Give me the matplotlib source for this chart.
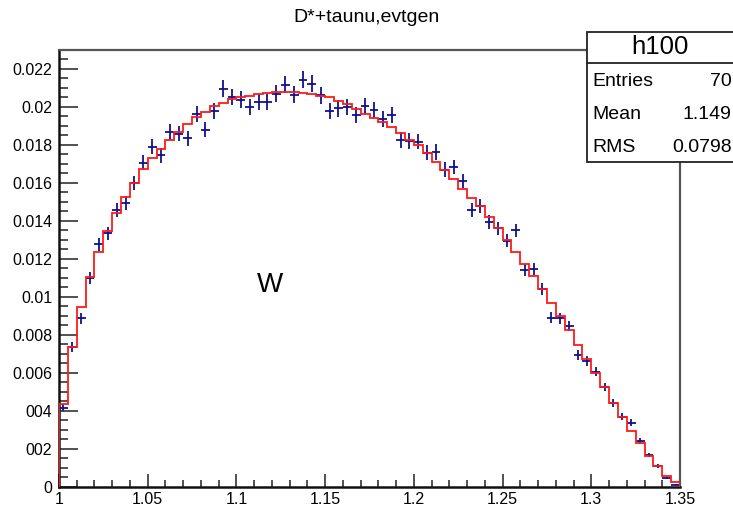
import numpy as np
import matplotlib
matplotlib.use('Agg')
import matplotlib.pyplot as plt
from matplotlib.patches import Rectangle
from matplotlib.lines import Line2D
from matplotlib.ticker import MultipleLocator, FixedLocator

plt.rcParams['font.family'] = ['Liberation Sans', 'DejaVu Sans']

# binning: 70 bins between 1 and 1.35
x_lo, x_hi, n_bins = 1.0, 1.35, 70

# generated points (blue crosses)
data_vals = [0.00416, 0.00737, 0.00886, 0.01097, 0.01276, 0.01334, 0.01456, 0.01495, 0.0160, 0.01707,
             0.0179, 0.01746, 0.01868, 0.0186, 0.01834, 0.01965, 0.01881, 0.01977, 0.02097, 0.02053,
             0.02039, 0.0200, 0.02026, 0.02026, 0.0207, 0.02118, 0.02065, 0.02144, 0.02123, 0.02061,
             0.01978, 0.01992, 0.0200, 0.01956, 0.02004, 0.01986, 0.01939, 0.0196, 0.01825, 0.0182,
             0.01818, 0.0176, 0.01763, 0.0167, 0.01684, 0.01609, 0.01456, 0.01477, 0.01395, 0.0136,
             0.01295, 0.01351, 0.0114, 0.01145, 0.0104, 0.0089, 0.00886, 0.00846, 0.00693, 0.00662,
             0.00605, 0.00526, 0.00442, 0.00368, 0.00337, 0.00242, 0.00167, 0.00109, 0.00047, 0.0001]

# reference shape (red histogram)
model_vals = [0.00434, 0.00737, 0.00944, 0.01102, 0.01234, 0.01346, 0.01439, 0.01526, 0.01602, 0.01672,
              0.0173, 0.0178, 0.01828, 0.01868, 0.0191, 0.01947, 0.01974, 0.02004, 0.02023, 0.02044,
              0.02053, 0.0206, 0.0207, 0.02075, 0.0208, 0.0208, 0.0208, 0.02075, 0.0207, 0.0206,
              0.0205, 0.0203, 0.02014, 0.0199, 0.01965, 0.01944, 0.0192, 0.01895, 0.01863, 0.01828,
              0.018, 0.01755, 0.0171, 0.01667, 0.01623, 0.0157, 0.01523, 0.01477, 0.01418, 0.0136,
              0.01298, 0.01237, 0.01172, 0.01109, 0.01039, 0.0097, 0.00898, 0.00825, 0.00746, 0.00672,
              0.006, 0.00523, 0.00442, 0.00368, 0.00295, 0.00228, 0.00162, 0.00109, 0.00056, 0.00023]

n_events = 110000  # poisson errors on normalised bins

x_ticks = [1, 1.05, 1.1, 1.15, 1.2, 1.25, 1.3, 1.35]
x_labels = ['1', '1.05', '1.1', '1.15', '1.2', '1.25', '1.3', '1.35']
y_ticks = [0, 0.002, 0.004, 0.006, 0.008, 0.01, 0.012, 0.014, 0.016, 0.018, 0.02, 0.022]
y_labels = ['0', '002', '004', '0.006', '0.008', '0.01', '0.012', '0.014', '0.016', '0.018', '0.02', '0.022']

stats_rows = [('Entries', '70'), ('Mean', '1.149'), ('RMS', '0.0798')]

edges = np.linspace(x_lo, x_hi, n_bins + 1)
centers = 0.5 * (edges[:-1] + edges[1:])
data_vals = np.array(data_vals)
errs = np.sqrt(data_vals / n_events)

W, H = 733, 509
fig = plt.figure(figsize=(W / 100, H / 100), dpi=100)
ax = fig.add_axes([59 / W, 1 - 486.7 / H, (680 - 59) / W, (486.7 - 50) / H])

ax.errorbar(centers, data_vals, xerr=(edges[1] - edges[0]) / 2, yerr=errs, fmt='none',
            ecolor='#10108a', elinewidth=1.3, capsize=0, zorder=2)
ax.stairs(model_vals, edges, color='#ff1a1a', lw=1.3, baseline=0, zorder=3)

ax.text(1.119, 0.0106, 'W', fontsize=20, ha='center', va='center')

ax.set_xlim(x_lo, x_hi)
ax.set_ylim(0, 0.023)
ax.xaxis.set_major_locator(FixedLocator(x_ticks))
ax.set_xticklabels(x_labels)
ax.xaxis.set_minor_locator(MultipleLocator(0.01))
ax.yaxis.set_major_locator(FixedLocator(y_ticks))
ax.set_yticklabels(y_labels)
ax.yaxis.set_minor_locator(MultipleLocator(0.0005))

ax.tick_params(axis='both', which='both', direction='in', top=False, right=False, width=1.1, color='#222222')
ax.tick_params(axis='y', which='major', length=13.5, labelsize=11.5, pad=5)
ax.tick_params(axis='y', which='minor', length=6.5)
ax.tick_params(axis='x', which='major', length=9.5, labelsize=11.5, pad=4)
ax.tick_params(axis='x', which='minor', length=4.8)

for s in ['left', 'bottom']:
    ax.spines[s].set_linewidth(1.8)
    ax.spines[s].set_color('#111111')
for s in ['top', 'right']:
    ax.spines[s].set_linewidth(1.6)
    ax.spines[s].set_color('#555555')

fig.text(0.5, 1 - 17 / H, 'D*+taunu,evtgen', fontsize=14, ha='center', va='center')

# stats box
bx0, by_top, by_bot, by_sep = 587 / W, 1 - 31.7 / H, 1 - 161.7 / H, 1 - 63.3 / H
fig.add_artist(Rectangle((bx0, by_bot), 1.2 - bx0, by_top - by_bot, transform=fig.transFigure,
                         facecolor='white', edgecolor='#222222', lw=1.3, zorder=5))
fig.add_artist(Line2D([bx0, 1.0], [by_sep, by_sep], transform=fig.transFigure,
                      color='#222222', lw=1.3, zorder=6))
fig.text((587 + 733) / 2 / W + 0.0, (by_top + by_sep) / 2, 'h100', fontsize=18.5,
         ha='center', va='center', zorder=7)
for i, (lab, val) in enumerate(stats_rows):
    yy = 1 - (81.7 + 33 * i) / H
    fig.text(592.5 / W, yy, lab, fontsize=14, ha='left', va='center', zorder=7)
    fig.text(731.5 / W, yy, val, fontsize=14, ha='right', va='center', zorder=7)

fig.savefig('out.png', dpi=100)
